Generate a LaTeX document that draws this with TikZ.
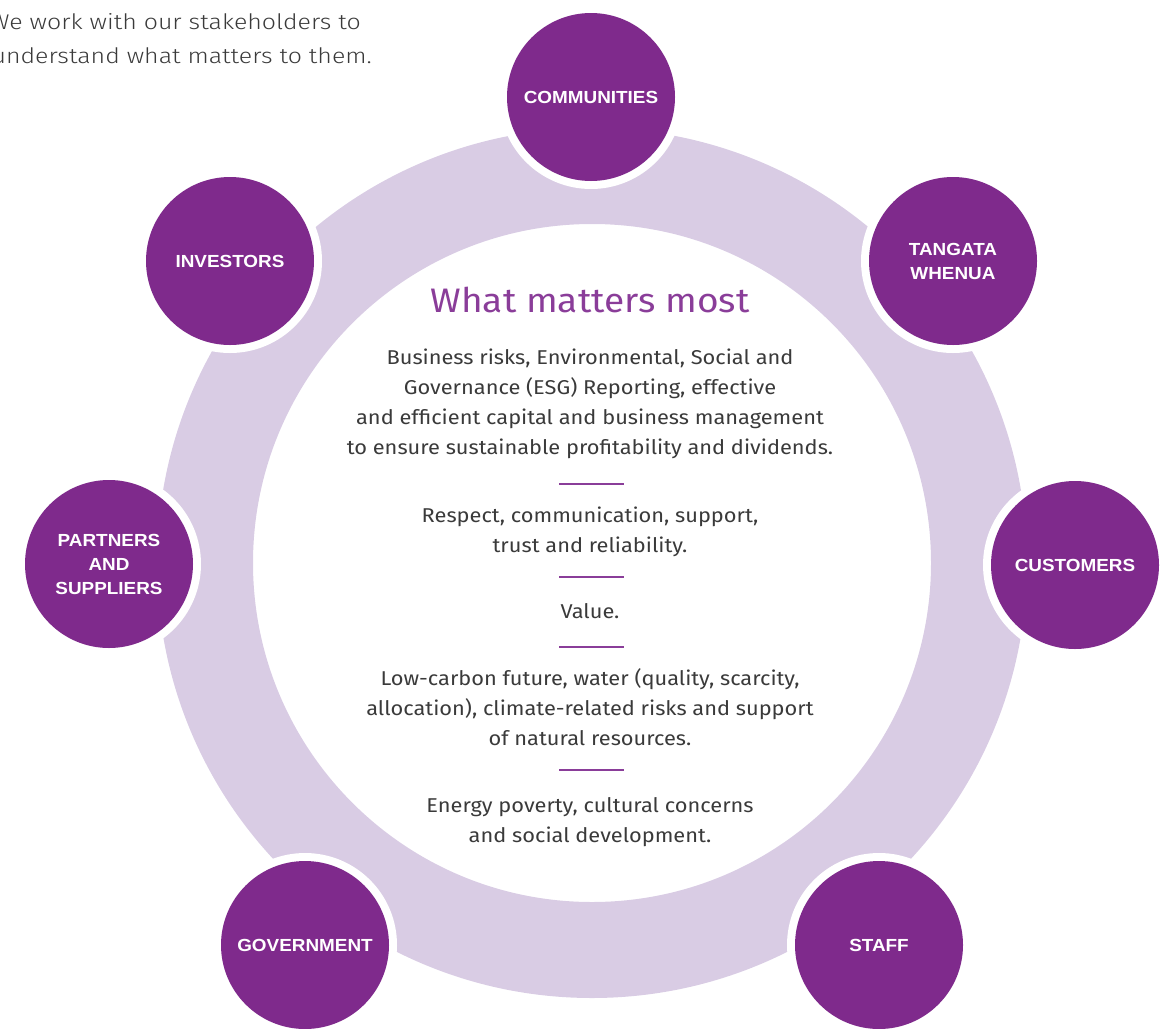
\documentclass[tikz,border=0pt]{standalone}
\usepackage{fontspec}
\setmainfont{Fira Sans}[FakeStretch=1.09]
\newfontfamily\labelfont{Liberation Sans}[FakeStretch=1.08]
\newfontfamily\lightfont{Fira Sans Light}[FakeStretch=1.17]
\definecolor{deeppurple}{HTML}{7F2A8C}
\definecolor{ringlilac}{HTML}{D9CCE4}
\definecolor{titlepurple}{HTML}{8A3D99}
\definecolor{bodygrey}{HTML}{3A3A3A}
\begin{document}
\begin{tikzpicture}[x=1pt,y=-1pt,
  stakeholder/.style={circle,fill=deeppurple,minimum size=168pt,inner sep=0pt,
    text=white,align=center,font=\labelfont\bfseries\fontsize{17.5}{24}\selectfont},
  halo/.style={circle,fill=white,minimum size=184pt,inner sep=0pt},
  bodyline/.style={anchor=base,text=bodygrey,inner sep=0pt,font=\fontsize{20}{30}\selectfont},
  introline/.style={anchor=base east,inner sep=0pt,text=bodygrey,font=\lightfont\fontsize{21.3}{35}\selectfont},
  divider/.style={draw=titlepurple,line width=1.4pt}]
\useasboundingbox (0,0) rectangle (1174,1028);
\clip (0,0) rectangle (1174,1028);

% intro text
\node[introline] (intro1) at (361,29) {We work with our stakeholders to};
\node[introline] (intro2) at (372,63) {understand what matters to them.};

% ring
\coordinate (hub) at (592,563);
\fill[ringlilac,even odd rule] (hub) circle[radius=435] (hub) circle[radius=339];

% stakeholder circles
\foreach \nm/\x/\y in {comm/591/97, tang/953/261, cust/1075/565, staff/879/945,
  gov/305/945, part/109/564, inv/230/261}
  \node[halo] (h-\nm) at (\x,\y) {};
\node[stakeholder] (comm) at (591,97) {COMMUNITIES};
\node[stakeholder] (tang) at (953,261) {TANGATA\\WHENUA};
\node[stakeholder] (cust) at (1075,565) {CUSTOMERS};
\node[stakeholder] (staff) at (879,945) {STAFF};
\node[stakeholder] (gov) at (305,945) {GOVERNMENT};
\node[stakeholder] (part) at (109,564) {PARTNERS\\AND\\SUPPLIERS};
\node[stakeholder] (inv) at (230,261) {INVESTORS};

% centre text
\node[anchor=base,inner sep=0pt,text=titlepurple,font=\fontsize{34}{40}\selectfont]
  (title) at (590,312) {What matters most};

\node[bodyline] (a1) at (590,364) {Business risks, Environmental, Social and};
\node[bodyline] (a2) at (590,394) {Governance (ESG) Reporting, effective};
\node[bodyline] (a3) at (590,424) {and efficient capital and business management};
\node[bodyline] (a4) at (590,454) {to ensure sustainable profitability and dividends.};

\node[bodyline] (b1) at (590,522) {Respect, communication, support,};
\node[bodyline] (b2) at (590,552) {trust and reliability.};

\node[bodyline] (c1) at (590,618) {Value.};

\node[bodyline] (d1) at (590,685) {Low-carbon future, water (quality, scarcity,};
\node[bodyline] (d2) at (590,715) {allocation), climate-related risks and support};
\node[bodyline] (d3) at (590,745) {of natural resources.};

\node[bodyline] (e1) at (590,812) {Energy poverty, cultural concerns};
\node[bodyline] (e2) at (590,842) {and social development.};

% dividers
\foreach \y in {484,577,647,770}
  \draw[divider] (559,\y) -- (624,\y);
\end{tikzpicture}
\end{document}
